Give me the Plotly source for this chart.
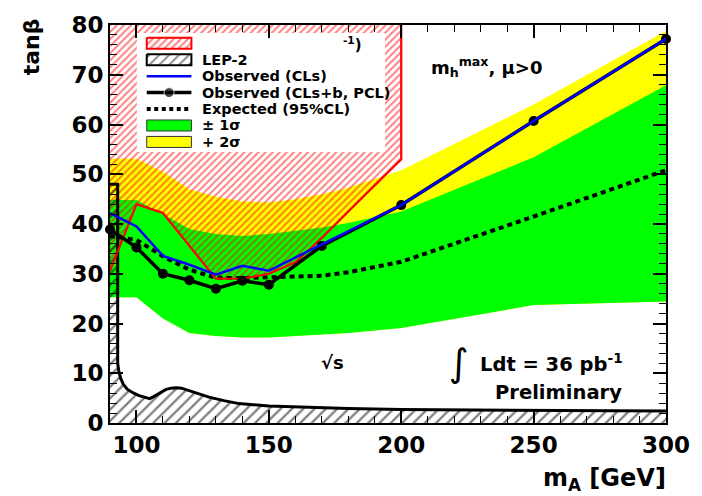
import plotly.graph_objects as go

# ---------------- data ----------------
mass_band = [90, 100, 110, 120, 130, 140, 150, 160, 170, 180, 200, 250, 300]
green_lo = [25.3, 25.3, 21.0, 18.1, 17.5, 17.2, 17.2, 17.5, 17.8, 18.1, 19.1, 23.7, 24.4]
green_hi = [44.8, 44.8, 42.0, 39.0, 38.0, 37.6, 38.0, 38.6, 39.3, 40.2, 42.5, 53.4, 67.9]
yellow_hi = [53.1, 53.1, 50.5, 47.0, 45.5, 44.5, 44.3, 45.0, 46.0, 47.3, 50.8, 64.0, 78.8]

exp_mass = [90, 100, 110, 120, 130, 140, 150, 160, 170, 180, 200, 250, 300]
expected = [37.6, 36.8, 33.5, 30.8, 29.2, 29.1, 29.3, 29.4, 29.6, 30.3, 32.4, 41.5, 50.8]

obs_mass = [90, 100, 110, 120, 130, 140, 150, 160, 170, 200, 250, 300]
obs_cls = [42.2, 39.5, 33.6, 31.8, 29.8, 31.6, 30.6, 33.2, 35.9, 43.8, 60.7, 77.2]

pcl_mass = [90, 100, 110, 120, 130, 140, 150, 170, 200, 250, 300]
obs_pcl = [38.9, 35.3, 30.0, 28.7, 27.0, 28.6, 27.8, 35.6, 43.8, 60.7, 77.2]

tev_mass = [90, 100, 110, 120, 130, 140, 150, 160, 170, 180, 190, 200, 200]
tev_tanb = [30.6, 44.0, 42.2, 35.5, 29.0, 29.0, 30.0, 32.3, 37.2, 42.5, 47.8, 53.0, 80.0]

lep_mass = [90, 92.9, 92.9, 93.3, 94.0, 95.0, 96.5, 98.6, 101, 103.5, 105, 106.5, 108,
            109.5, 111, 113, 115, 117, 118.7, 121, 123.5, 127.4, 133, 138.7, 150,
            165, 180, 200, 250, 300]
lep_tanb = [48, 48, 12, 10.5, 9.0, 7.8, 6.8, 6.1, 5.5, 5.1, 4.9, 5.3, 5.8,
            6.3, 6.7, 7.0, 7.1, 7.0, 6.7, 6.3, 5.9, 5.2, 4.5, 3.9, 3.4,
            3.1, 2.9, 2.7, 2.5, 2.4]

x_range = [90, 300]
y_range = [0, 80]

legend_labels = ["", "LEP-2", "Observed (CLs)", "Observed (CLs+b, PCL)",
                 "Expected (95%CL)", "± 1σ", "+ 2σ"]

# ---------------- styling ----------------
FONT = "DejaVu Sans"
GREEN = "#00ff00"
YELLOW = "#ffff00"
RED = "#ff0000"
BLUE = "#0000ff"

W, H = 702, 496
ML, MR, MT, MB = 110, 32, 19, 73
PW, PH = W - ML - MR, H - MT - MB


def dx(px):  # pixel -> data x (for legend symbols only)
    return x_range[0] + (px - ML) / PW * (x_range[1] - x_range[0])


def dy(py):  # pixel -> data y
    return y_range[0] + (H - MB - py) / PH * (y_range[1] - y_range[0])


def pxp(px):  # pixel -> paper
    return (px - ML) / PW


def pyp(py):
    return (H - MB - py) / PH


fig = go.Figure()

fig.add_trace(go.Scatter(
    x=mass_band + mass_band[::-1], y=yellow_hi + green_lo[::-1],
    fill="toself", fillcolor=YELLOW, line=dict(width=0), mode="lines",
    hoverinfo="skip"))
fig.add_trace(go.Scatter(
    x=mass_band + mass_band[::-1], y=green_hi + green_lo[::-1],
    fill="toself", fillcolor=GREEN, line=dict(width=0), mode="lines",
    hoverinfo="skip"))

fig.add_trace(go.Scatter(
    x=tev_mass + [x_range[0]], y=tev_tanb + [y_range[1]],
    fill="toself", fillcolor="rgba(0,0,0,0)", mode="lines", line=dict(width=0),
    fillpattern=dict(shape="/", fgcolor=RED, bgcolor="rgba(0,0,0,0)",
                     size=5, solidity=0.4),
    hoverinfo="skip"))

fig.add_trace(go.Scatter(
    x=lep_mass + [x_range[1], x_range[0]], y=lep_tanb + [0, 0],
    fill="toself", fillcolor="rgba(0,0,0,0)", mode="lines", line=dict(width=0),
    fillpattern=dict(shape="/", fgcolor="black", bgcolor="rgba(0,0,0,0)",
                     size=8, solidity=0.28),
    hoverinfo="skip"))
fig.add_trace(go.Scatter(
    x=lep_mass, y=lep_tanb, mode="lines",
    line=dict(color="black", width=3), hoverinfo="skip"))

fig.add_trace(go.Scatter(
    x=exp_mass, y=expected, mode="lines",
    line=dict(color="black", width=4, dash="5px,4px"), hoverinfo="skip"))

fig.add_trace(go.Scatter(
    x=tev_mass, y=tev_tanb, mode="lines",
    line=dict(color=RED, width=2.2), hoverinfo="skip"))

fig.add_trace(go.Scatter(
    x=pcl_mass, y=obs_pcl, mode="lines+markers",
    line=dict(color="black", width=3.5),
    marker=dict(color="black", size=10), cliponaxis=False, hoverinfo="skip"))

fig.add_trace(go.Scatter(
    x=obs_mass, y=obs_cls, mode="lines",
    line=dict(color=BLUE, width=2.5), hoverinfo="skip"))

# ---------------- custom legend ----------------
lx0, lx1 = 147, 192
rows = [37.5 + 16.7 * i for i in range(7)]
box_h = 5.6


def leg_trace(xp, yp, **kw):
    kw.setdefault("hoverinfo", "skip")
    fig.add_trace(go.Scatter(x=[dx(v) for v in xp], y=[dy(v) for v in yp], **kw))


leg_trace([137, 387, 387, 137, 137], [27, 27, 148, 148, 27],
          fill="toself", fillcolor="white", mode="lines", line=dict(width=0))


def box(r, **kw):
    y0, y1 = rows[r] - box_h, rows[r] + box_h
    leg_trace([lx0, lx1, lx1, lx0, lx0], [y0, y0, y1, y1, y0],
              fill="toself", mode="lines", **kw)


box(0, fillcolor="rgba(0,0,0,0)", line=dict(color=RED, width=2),
    fillpattern=dict(shape="/", fgcolor=RED, bgcolor="white", size=5, solidity=0.4))
box(1, fillcolor="rgba(0,0,0,0)", line=dict(color="black", width=2),
    fillpattern=dict(shape="/", fgcolor="black", bgcolor="white", size=7, solidity=0.25))
leg_trace([lx0, lx1], [rows[2]] * 2, mode="lines", line=dict(color=BLUE, width=2.5))
leg_trace([lx0, (lx0 + lx1) / 2, lx1], [rows[3]] * 3, mode="lines+markers",
          line=dict(color="black", width=3.5),
          marker=dict(color="black", size=[0, 10, 0]))
leg_trace([lx0, lx1], [rows[4]] * 2, mode="lines",
          line=dict(color="black", width=4, dash="4px,3.5px"))
box(5, fillcolor=GREEN, line=dict(color="#333333", width=1))
box(6, fillcolor=YELLOW, line=dict(color="#333333", width=1))

annotations = []


def note(text, x, y, size, xanchor="left", yanchor="middle", angle=0, bold=True):
    annotations.append(dict(
        x=pxp(x), y=pyp(y), xref="paper", yref="paper", text=text, showarrow=False,
        xanchor=xanchor, yanchor=yanchor, textangle=angle,
        font=dict(family=FONT, size=size, color="black",
                  weight="bold" if bold else "normal")))


for r, lab in enumerate(legend_labels):
    if lab:
        note(lab, 201, rows[r], 14.5)

note("<sup>-1</sup>)", 366, 38, 15, xanchor="right")
note("m<sub>h</sub><sup>max</sup>, μ>0", 431, 62, 18)
note("√s", 334, 362, 18, xanchor="center")
note("∫", 462, 362, 38, xanchor="center", bold=False)
note("Ldt = 36 pb<sup>-1</sup>", 481, 362, 19.5)
note("Preliminary", 628, 392, 19.5, xanchor="right")
note("tanβ", 31, 41, 22, xanchor="center", angle=-90)
note("m<sub>A</sub> [GeV]", 672, 480, 24, xanchor="right")

tickfont = dict(family=FONT, size=23, color="black")
minor_common = dict(ticks="inside", ticklen=7, tickwidth=1, tickcolor="black",
                    showgrid=False)
axis_common = dict(
    showline=True, linecolor="black", linewidth=2, mirror="allticks",
    ticks="inside", tickcolor="black", tickwidth=1.5, ticklen=13,
    showgrid=False, zeroline=False, tickfont=tickfont,
    tickprefix="<b>", ticksuffix="</b>", layer="above traces",
)

fig.update_layout(
    width=W, height=H,
    margin=dict(l=ML, r=MR, t=MT, b=MB),
    paper_bgcolor="white", plot_bgcolor="white",
    showlegend=False,
    xaxis=dict(range=x_range, tick0=0, dtick=50,
               minor=dict(dtick=10, tick0=0, **minor_common), **axis_common),
    yaxis=dict(range=y_range, tick0=0, dtick=10,
               minor=dict(dtick=2, tick0=0, **minor_common), **axis_common),
    annotations=annotations,
)

fig.write_html("out.html")
